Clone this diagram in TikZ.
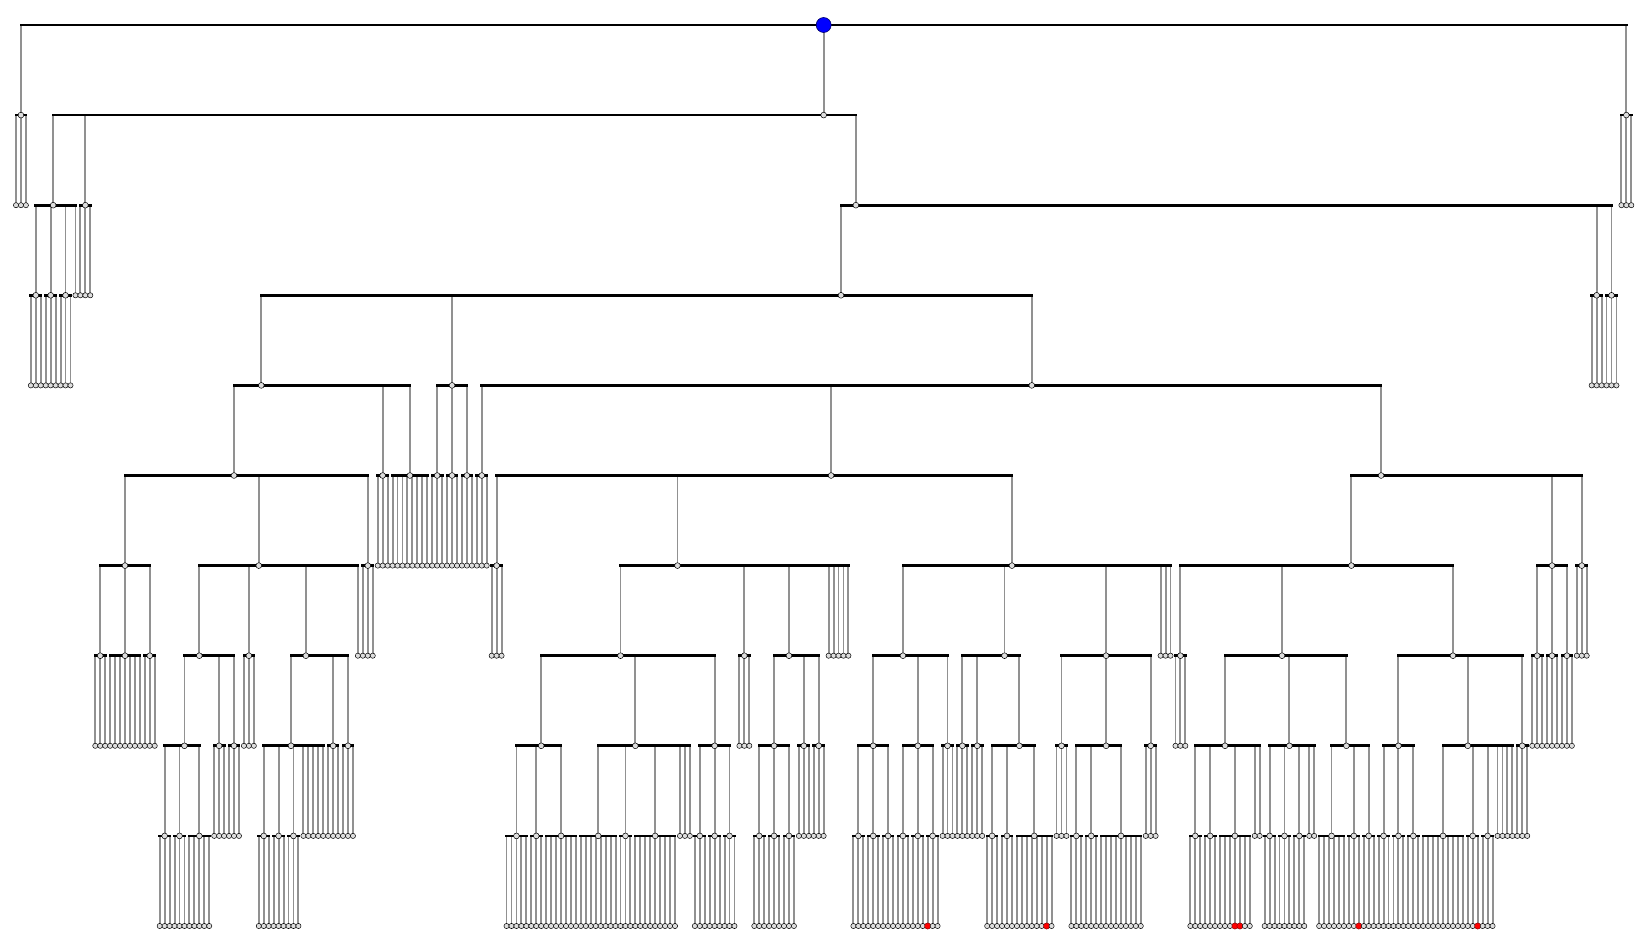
\documentclass[tikz,border=0pt]{standalone}
\pgfdeclarelayer{bg}
\pgfsetlayers{bg,main}
\definecolor{vgray}{RGB}{145,145,145}
\definecolor{nfill}{RGB}{222,222,222}
\tikzset{
  lnode/.style={circle,draw=black,line width=0.5pt,fill=nfill,inner sep=0pt,minimum size=5.2pt},
  inode/.style={lnode,minimum size=5.8pt},
  rnode/.style={circle,draw=red!55!black,line width=0.5pt,fill=red,inner sep=0pt,minimum size=6.2pt},
  rootnode/.style={circle,draw=blue!40!black,line width=0.6pt,fill=blue,inner sep=0pt,minimum size=15pt},
  hbar/.style={line width=2.8pt,black,line cap=rect},
  vbar/.style={line width=1.9pt,vgray}
}
\newcount\lidx \newcount\lvl \newcount\nid
\def\xo{16}\def\yo{25}\def\dy{90.1}
\def\gobbleone#1{}
\def\Ls#1{\ifnum#1>0 \expandafter\LsStep\else\expandafter\gobbleone\fi{#1}}
\def\LsStep#1{\L\expandafter\Ls\expandafter{\the\numexpr#1-1\relax}}
\def\G#1{\T{\Ls{#1}}}
\def\appkid#1{\expandafter\def\expandafter\kids\expandafter{\kids\kid{#1}}}
\def\kids{}
\def\leafnode#1{%
  \global\advance\nid by 1
  \edef\lname{n\the\nid}%
  \pgfmathsetmacro\lx{\xo+\the\lidx*\sx}%
  \pgfmathsetmacro\ly{-(\yo+\the\lvl*\dy)}%
  \node[#1] (\lname) at (\lx pt,\ly pt) {};
  \expandafter\appkid\expandafter{\lname}%
  \global\advance\lidx by 1
}
\def\DrawT#1{%
  \begingroup
    \advance\lvl by 1
    \def\kids{}%
    \edef\firstleaf{\the\lidx}%
    #1%
    \advance\lvl by -1
    \global\advance\nid by 1
    \edef\me{n\the\nid}%
    \pgfmathsetmacro\mx{\xo+(\firstleaf+\the\lidx-1)/2*\sx}%
    \pgfmathsetmacro\my{-(\yo+\the\lvl*\dy)}%
    \ifnum\lvl=0 \def\nst{rootnode}\else\def\nst{inode}\fi
    \node[\nst] (\me) at (\mx pt,\my pt) {};
    \begin{pgfonlayer}{bg}
      \def\kid##1{\draw[vbar] (\me.center -| ##1.center) -- (##1.center);
                  \draw[hbar] (\me.center) -- (\me.center -| ##1.center);}%
      \kids
    \end{pgfonlayer}
    \xdef\lastname{\me}%
  \endgroup
  \expandafter\appkid\expandafter{\lastname}%
}
\def\treedata{%
\T{%
 \G3%
 \T{%
  \T{\G3\G3\G3\L}%
  \G3%
  \T{%
   \T{%
    \T{%
     \T{%
      \T{\G3\G7\G3}%
      \T{%
       \T{\T{\G3\G3\G5}\G3\G3}%
       \G3%
       \T{\T{\G3\G3\G3\Ls5}\G3\G3}%
       \L}%
      \G3}%
     \G3%
     \G8}%
    \T{\G3\G3\G3}%
    \T{%
     \G3%
     \T{%
      \G3%
      \T{%
       \T{\T{\G5\G3\G7}\T{\G8\G3\G9\Ls3}\T{\G3\G3\G3}}%
       \G3%
       \T{\T{\G3\G3\G3}\G3\G3}%
       \Ls5}%
      \T{%
       \T{\T{\G3\G3\G3}\T{\G3\G3\T{\Lr\L\L}}\G3}%
       \T{\G3\G3\T{\G3\G3\T{\Ls6\Lr\L}}}%
       \T{\G3\T{\G3\G3\G9}\G3}%
       \Ls3}}%
     \T{%
      \T{%
       \G3%
       \T{\T{\G3\G3\T{\Ls3\Lr\Lr\Ls2}\Ls2}\T{\G3\G3\G3\Ls2}\T{\G6\T{\Ls2\Lr}\G3}}%
       \T{\T{\G3\G3\G3}\T{\G9\T{\Ls2\Lr}\G3\Ls4}\G3}}%
      \T{\G3\G3\G3}%
      \G3}}}%
   \G3\G3}}%
 \G3}}
\begin{document}
\begingroup
\def\T#1{#1}\def\L{\global\advance\lidx by 1 }\def\Lr{\L}%
\treedata
\endgroup
\pgfmathsetmacro\sx{1615.3/(\the\lidx-1)}
\global\lidx=0
\let\T\DrawT
\def\L{\leafnode{lnode}}
\def\Lr{\leafnode{rnode}}
\begin{tikzpicture}
\useasboundingbox (0,0) rectangle (1645pt,-944pt);
\treedata
\end{tikzpicture}
\end{document}
